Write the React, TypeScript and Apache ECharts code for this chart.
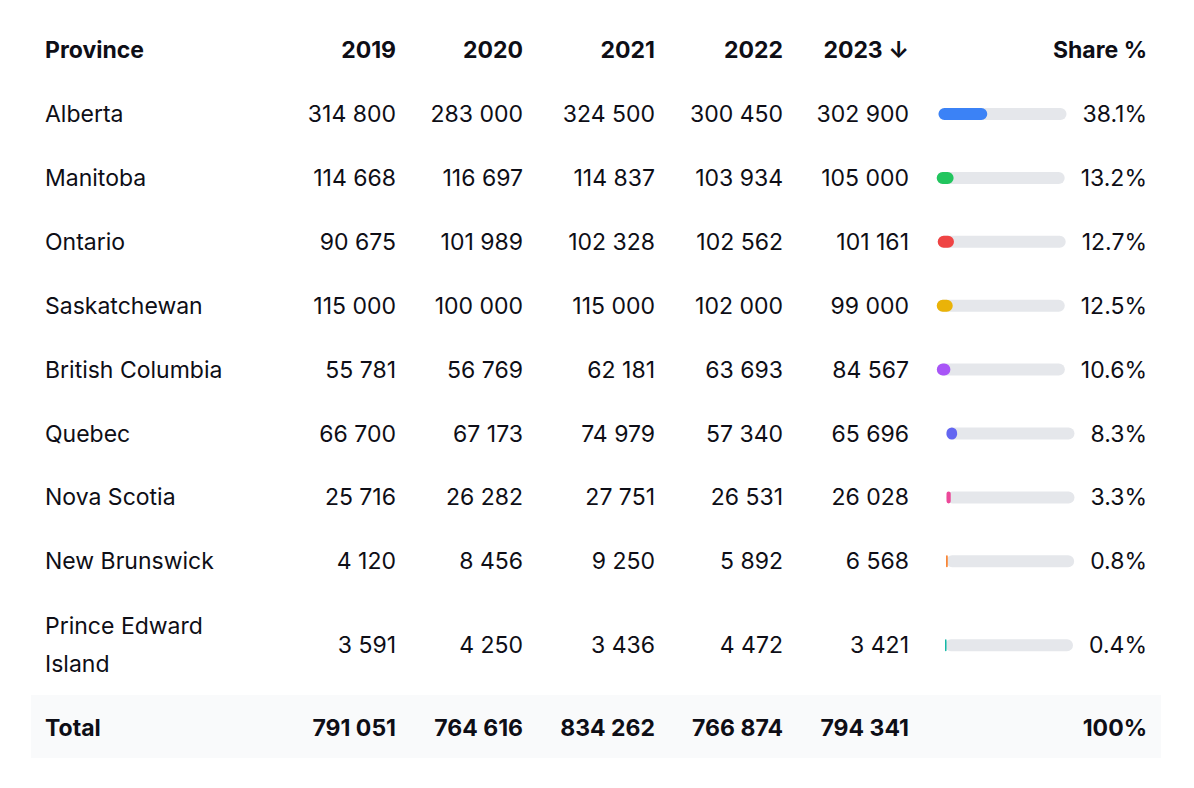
import React, { useEffect, useRef } from "react";
import * as echarts from "echarts";

// ---------- data ----------
const provinces = [
  "Alberta",
  "Manitoba",
  "Ontario",
  "Saskatchewan",
  "British Columbia",
  "Quebec",
  "Nova Scotia",
  "New Brunswick",
  "Prince Edward Island",
];
const headerLabels = ["Province", "2019", "2020", "2021", "2022", "2023 ↓", "Share %"];
const v2019 = [314800, 114668, 90675, 115000, 55781, 66700, 25716, 4120, 3591];
const v2020 = [283000, 116697, 101989, 100000, 56769, 67173, 26282, 8456, 4250];
const v2021 = [324500, 114837, 102328, 115000, 62181, 74979, 27751, 9250, 3436];
const v2022 = [300450, 103934, 102562, 102000, 63693, 57340, 26531, 5892, 4472];
const v2023 = [302900, 105000, 101161, 99000, 84567, 65696, 26028, 6568, 3421];
const sharePct = [38.1, 13.2, 12.7, 12.5, 10.6, 8.3, 3.3, 0.8, 0.4];
const totalLabel = "Total";
const totalShareLabel = "100%";
const barColors = [
  "#3b82f6",
  "#22c55e",
  "#ef4444",
  "#eab308",
  "#a855f7",
  "#6366f1",
  "#ec4899",
  "#f97316",
  "#14b8a6",
];

// ---------- layout ----------
const W = 1194;
const H = 788;
const FONT_FAMILY = "Inter, 'Noto Sans', sans-serif";
const FONT_SIZE = 23;
const TEXT_COLOR = "#0e0e16";
const PROVINCE_X = 45;
const PROVINCE_COL_W = 205;
const COL_RIGHT = [396, 523, 655, 783, 909];
const SHARE_RIGHT = 1147;
const TRACK_W = 128;
const TRACK_H = 12;
const TRACK_GAP = 16;
const HEADER_Y = 50;
const FIRST_ROW_Y = 114;
const ROW_STEP = 63.9;
const TALL_ROW_EXTRA = 20;

const yearSeries = [v2019, v2020, v2021, v2022, v2023];

const fmt = (n: number) => String(n).replace(/\B(?=(\d{3})+(?!\d))/g, " ");

function rowCenters(): number[] {
  const ys: number[] = [];
  let y = FIRST_ROW_Y;
  for (let i = 0; i < provinces.length; i++) {
    const tall = i === provinces.length - 1 ? TALL_ROW_EXTRA : 0;
    ys.push(y + tall);
    y += ROW_STEP + tall * 2;
  }
  return ys;
}

function measure(text: string, bold = false): number {
  const c = document.createElement("canvas");
  const ctx = c.getContext("2d");
  if (!ctx) return text.length * 12;
  ctx.font = `${bold ? "700 " : ""}${FONT_SIZE}px ${FONT_FAMILY}`;
  return ctx.measureText(text).width;
}

function txt(text: string, x: number, y: number, align: string, bold = false, extra: any = {}) {
  return {
    type: "text",
    x,
    y,
    silent: true,
    style: {
      text,
      fill: TEXT_COLOR,
      fontSize: FONT_SIZE,
      fontFamily: FONT_FAMILY,
      fontWeight: bold ? 700 : 400,
      align,
      textAlign: align,
      verticalAlign: "middle",
      textVerticalAlign: "middle",
      ...extra,
    },
  };
}

export default function App() {
  const ref = useRef<HTMLDivElement>(null);

  useEffect(() => {
    if (!ref.current) return;
    const chart = echarts.init(ref.current, undefined, { renderer: "svg" });

    const ys = rowCenters();
    const totalY = ys[ys.length - 1] + ROW_STEP + TALL_ROW_EXTRA - 1;
    const totals = yearSeries.map((s) => s.reduce((a, b) => a + b, 0));
    const shareLabels = sharePct.map((s) => `${s.toFixed(1)}%`);
    const labelW = shareLabels.map((l) => measure(l));

    const elements: any[] = [];
    // total row background
    elements.push({
      type: "rect",
      silent: true,
      shape: { x: 31, y: totalY - 33, width: 1130, height: 63 },
      style: { fill: "#f9fafb" },
      z: -1,
    });
    // header
    elements.push(txt(headerLabels[0], PROVINCE_X, HEADER_Y, "left", true));
    for (let c = 0; c < 5; c++) {
      elements.push(txt(headerLabels[c + 1], COL_RIGHT[c], HEADER_Y, "right", true));
    }
    elements.push(txt(headerLabels[6], SHARE_RIGHT, HEADER_Y, "right", true));
    // body
    provinces.forEach((p, i) => {
      elements.push(
        txt(p, PROVINCE_X, ys[i], "left", false, {
          width: PROVINCE_COL_W,
          overflow: "break",
          lineHeight: 38,
        })
      );
      yearSeries.forEach((s, c) => {
        elements.push(txt(fmt(s[i]), COL_RIGHT[c], ys[i], "right"));
      });
      elements.push(txt(shareLabels[i], SHARE_RIGHT, ys[i], "right"));
    });
    // total
    elements.push(txt(totalLabel, PROVINCE_X, totalY, "left", true));
    totals.forEach((t, c) => elements.push(txt(fmt(t), COL_RIGHT[c], totalY, "right", true)));
    elements.push(txt(totalShareLabel, SHARE_RIGHT, totalY, "right", true));

    chart.setOption({
      animation: false,
      backgroundColor: "#ffffff",
      graphic: { elements },
      grid: {
        left: SHARE_RIGHT - TRACK_W,
        width: TRACK_W,
        top: 0,
        height: H,
        show: false,
      },
      xAxis: { type: "value", min: 0, max: 100, show: false },
      yAxis: { type: "value", min: 0, max: H, inverse: true, show: false },
      series: [
        {
          type: "custom",
          silent: true,
          data: sharePct.map((s, i) => [s, ys[i]]),
          renderItem: (params: any, api: any) => {
            const i = params.dataIndex;
            const share = api.value(0);
            const yv = api.value(1);
            const p0 = api.coord([0, yv]);
            const p100 = api.coord([100, yv]);
            const ps = api.coord([share, yv]);
            const dx = -(labelW[i] + TRACK_GAP);
            const y = p0[1] - TRACK_H / 2;
            const fillW = Math.max(ps[0] - p0[0], 1.5);
            return {
              type: "group",
              children: [
                {
                  type: "rect",
                  shape: { x: p0[0] + dx, y, width: p100[0] - p0[0], height: TRACK_H, r: TRACK_H / 2 },
                  style: { fill: "#e5e7eb" },
                },
                {
                  type: "rect",
                  shape: { x: p0[0] + dx, y, width: fillW, height: TRACK_H, r: Math.min(TRACK_H / 2, fillW / 2) },
                  style: { fill: barColors[i] },
                },
              ],
            };
          },
        },
      ],
    });

    return () => chart.dispose();
  }, []);

  return (
    <div
      ref={ref}
      style={{ position: "fixed", left: 0, top: 0, width: W, height: H, background: "#fff" }}
    />
  );
}
